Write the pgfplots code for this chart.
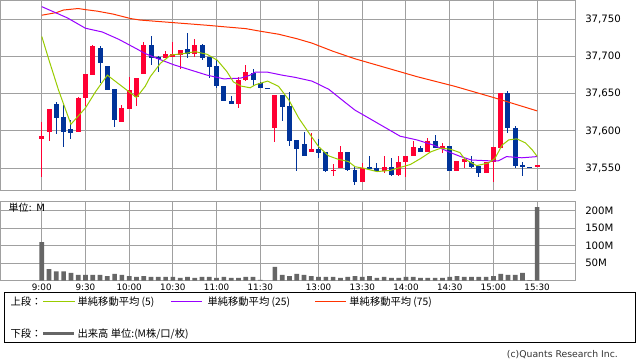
\documentclass[border=0pt]{standalone}
\usepackage{fontspec}
\setmainfont{DejaVu Sans}
\newfontfamily\jp{Noto Sans CJK JP}
\usepackage{pgfplots}
\usepackage{pgfplotstable}
\pgfplotsset{compat=1.18}

\definecolor{cred}{RGB}{255,0,51}
\definecolor{cblue}{RGB}{0,51,153}
\definecolor{maf}{RGB}{153,204,0}
\definecolor{mat}{RGB}{153,0,255}
\definecolor{mas}{RGB}{255,51,0}
\definecolor{gridc}{RGB}{160,160,160}
\definecolor{volc}{RGB}{102,102,102}

% i open high low close
\pgfplotstableread{
i o h l c
0 37590 37612 37538 37594
1 37599 37629 37586 37629
5 37599 37645 37598 37644
6 37644 37676 37633 37676
7 37675 37716 37675 37714
11 37612 37635 37612 37631
12 37629 37673 37629 37655
13 37646 37671 37634 37671
14 37677 37720 37676 37716
17 37698 37708 37698 37703
18 37700 37719 37700 37704
19 37702 37709 37684 37709
21 37704 37723 37700 37715
27 37636 37672 37631 37669
28 37668 37689 37667 37679
32 37604 37649 37585 37649
37 37572 37597 37572 37576
40 37546 37555 37540 37548
41 37550 37580 37550 37572
44 37531 37557 37531 37551
47 37547 37567 37543 37552
49 37541 37567 37540 37558
50 37558 37567 37538 37567
51 37567 37587 37567 37578
53 37572 37591 37572 37587
55 37576 37584 37570 37580
57 37547 37560 37547 37560
58 37559 37562 37550 37562
61 37544 37559 37544 37559
62 37559 37578 37531 37578
63 37577 37651 37577 37651
68 37551 37554 37551 37554
}\redtab

\pgfplotstableread{
i o h l c
2 37636 37639 37596 37617
3 37619 37635 37579 37599
4 37603 37615 37590 37598
8 37711 37714 37665 37691
9 37688 37688 37655 37655
10 37656 37656 37606 37615
15 37715 37727 37689 37698
16 37699 37701 37680 37697
20 37710 37732 37698 37704
22 37715 37717 37696 37698
23 37699 37699 37671 37686
24 37687 37695 37658 37660
25 37661 37661 37640 37640
26 37641 37647 37636 37636
29 37678 37684 37661 37668
30 37664 37666 37658 37658
31 37658 37658 37658 37657
33 37649 37649 37614 37632
34 37633 37653 37580 37587
35 37588 37588 37546 37576
36 37583 37599 37566 37567
38 37576 37590 37564 37571
39 37572 37572 37545 37546
42 37572 37572 37546 37548
43 37548 37553 37527 37531
45 37552 37566 37549 37549
46 37550 37557 37547 37547
48 37552 37564 37540 37541
52 37577 37580 37572 37572
54 37587 37595 37577 37577
56 37580 37580 37546 37546
59 37559 37566 37550 37552
60 37553 37553 37538 37544
64 37651 37654 37598 37604
65 37604 37607 37551 37553
66 37554 37558 37539 37551
67 37552 37552 37551 37551
}\bluetab

\pgfplotstableread{
x y
0 37727
1 37695
2.3 37655
4 37609
6 37631
7.4 37653
9 37675
11 37660
13 37645
14.2 37660
14.9 37673
16.3 37691
17.7 37702
19.5 37704
21.1 37706.5
22.7 37703
24.1 37695
25.4 37680
26.3 37666
27.3 37660.5
28.6 37658
29.3 37662
31 37667
32.5 37660
33.9 37642
35.3 37617
36.7 37597
38 37579
39.4 37566.5
40.7 37562
42.1 37559
43 37552
44.2 37550
46 37545.5
47.8 37547
49.2 37551
50.6 37555
52 37563
53.4 37572
54.8 37577
56.1 37575.5
57.4 37571
58.1 37562
59.7 37553.5
61.3 37557
62.2 37563
63.2 37581
64.1 37588
65.2 37589.5
66.4 37584
67.3 37575
68 37566
}\mafive

\pgfplotstableread{
x y
0 37767
3.5 37752
6 37738
8.3 37733
10.6 37723
12.9 37711
14.2 37704
15.8 37697.6
18.1 37689
20.4 37682
22.7 37675
25 37670
27.3 37671
28.6 37675
29.3 37679
31 37679
33 37675
34.8 37672
37.1 37667
39.4 37656
41.7 37638
43 37628
44.6 37619
46.9 37606
49.2 37593
51.5 37588
53.8 37581
56.1 37571
57.4 37566
59 37561
61.3 37560
62.7 37560
63.8 37565.6
65.9 37564
68 37565.6
}\matwentyfive

\pgfplotstableread{
x y
0 37755.5
2 37759
3 37762.5
5 37764.5
6 37763
7.6 37761
9.8 37757
12.2 37751
13.5 37749
18.1 37745.5
22.7 37742
25 37740
28 37737.5
30 37734
32.5 37730
35 37724
37.1 37718
40 37707
43 37697
46.9 37686
51.5 37673
56.7 37660
62 37645
65 37636
68 37627
}\maseventyfive

\pgfplotstableread{
i v
0 110
1 33
2 26
3 26
4 22
5 16
6 16
7 16
8 16
9 13
10 19
11 16
12 13
13 10.5
14 13
15 10.5
16 10.5
17 10.5
18 10.5
19 7.6
20 10.5
21 7.6
22 10.5
23 10.5
24 7.6
25 10.5
26 7.6
27 7.6
28 10.5
29 10.5
30 2
32 39
33 16
34 13
35 19
36 16
37 13
38 10.5
39 10.5
40 10.5
41 7.6
42 10.5
43 13
44 10.5
45 13
46 7.6
47 10.5
48 7.6
49 7.6
50 10.5
51 10.5
52 7.6
53 7.6
54 7.6
55 7.6
56 10.5
57 13
58 10.5
59 10.5
60 10.5
61 10.5
62 13
63 19
64 16
65 16
66 22
67 1
68 210
}\voltab

\pgfplotsset{
  panel/.style={
    scale only axis, width=575pt, anchor=south west,
    xmin=-5.665, xmax=73.21,
    xtick={0,6,12,18,24,30,38,44,50,56,62,68},
    grid=major, major grid style={gridc, line width=1pt},
    axis line style={gridc, line width=1pt},
    major tick length=0pt,
    scaled y ticks=false, scaled x ticks=false,
    yticklabel pos=right,
    yticklabel style={inner sep=0pt, anchor=west, xshift=10pt, font=\fontsize{10.2}{12}\selectfont},
  },
}

\begin{document}
\begin{tikzpicture}[x=1pt,y=1pt]
\fill[white] (0,0) rectangle (638,362);

\begin{axis}[panel,
  at={(0pt,171.3pt)}, height=190pt,
  ymin=37520, ymax=37775,
  xticklabels={},
  ytick={37550,37600,37650,37700,37750},
  yticklabels={{37,550},{37,600},{37,650},{37,700},{37,750}},
]
% red candles: wick then body
\addplot[draw=none, forget plot, error bars/.cd, y dir=both, y explicit, error mark=none,
  error bar style={draw=cred, line width=1pt}]
  table[x=i, y expr={(\thisrow{h}+\thisrow{l})/2}, y error expr={(\thisrow{h}-\thisrow{l})/2}] {\redtab};
\addplot[draw=none, forget plot, error bars/.cd, y dir=both, y explicit, error mark=none,
  error bar style={draw=cred, line width=5pt}]
  table[x=i, y expr={(\thisrow{o}+\thisrow{c})/2}, y error expr={max(abs(\thisrow{c}-\thisrow{o})/2,0.6)}] {\redtab};
% blue candles
\addplot[draw=none, forget plot, error bars/.cd, y dir=both, y explicit, error mark=none,
  error bar style={draw=cblue, line width=1pt}]
  table[x=i, y expr={(\thisrow{h}+\thisrow{l})/2}, y error expr={(\thisrow{h}-\thisrow{l})/2}] {\bluetab};
\addplot[draw=none, forget plot, error bars/.cd, y dir=both, y explicit, error mark=none,
  error bar style={draw=cblue, line width=5pt}]
  table[x=i, y expr={(\thisrow{o}+\thisrow{c})/2}, y error expr={max(abs(\thisrow{c}-\thisrow{o})/2,0.6)}] {\bluetab};
% moving averages
\addplot[mas, line width=1pt, mark=none] table[x=x,y=y] {\maseventyfive};
\addplot[mat, line width=1pt, mark=none] table[x=x,y=y] {\matwentyfive};
\addplot[maf, line width=1pt, mark=none] table[x=x,y=y] {\mafive};
\end{axis}

\begin{axis}[panel,
  at={(0pt,81.2pt)}, height=79.1pt,
  ymin=0, ymax=226,
  ytick={50,100,150,200},
  yticklabels={50M,100M,150M,200M},
  xticklabels={9:00,9:30,10:00,10:30,11:00,11:30,13:00,13:30,14:00,14:30,15:00,15:30},
  xticklabel style={inner sep=0pt, anchor=north, yshift=-2.7pt, font=\fontsize{8.8}{10}\selectfont},
]
\addplot[ybar, bar width=4.7pt, fill=volc, draw=none] table[x=i, y=v] {\voltab};
\end{axis}

% panel caption
\node[anchor=west, inner sep=0pt, font=\fontsize{10}{12}\selectfont] at (8,154.5) {{\jp 単位}: M};

% legend
\draw[black, line width=1pt] (4.5,19) rectangle (635.5,69);
\begin{scope}[every node/.style={anchor=west, inner sep=0pt, font=\jp\fontsize{10.3}{12}\selectfont}]
\node at (10,60) {上段：};
\draw[maf, line width=1pt] (43,60) -- (75,60);
\node at (77,60) {単純移動平均 (5)};
\draw[mat, line width=1pt] (171,60) -- (202,60);
\node at (207,60) {単純移動平均 (25)};
\draw[mas, line width=1pt] (315,60) -- (346,60);
\node at (349,60) {単純移動平均 (75)};
\node at (10,28) {下段：};
\draw[volc, line width=3pt] (43,28) -- (74,28);
\node at (77,28) {出来高 単位:(M株/口/枚)};
\end{scope}

\node[anchor=east, inner sep=0pt, font=\fontsize{9.3}{11}\selectfont, text=black!80] at (618,7) {(c)Quants Research Inc.};
\end{tikzpicture}
\end{document}
